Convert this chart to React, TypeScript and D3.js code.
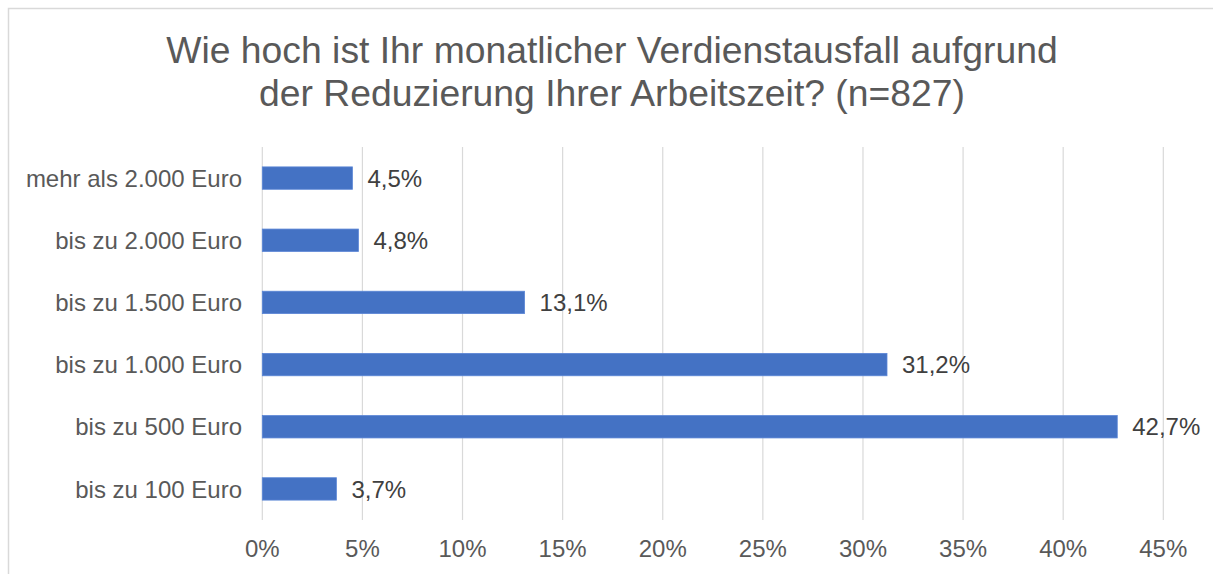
import * as d3 from "d3";

// Werte
const categories = [
  "mehr als 2.000 Euro",
  "bis zu 2.000 Euro",
  "bis zu 1.500 Euro",
  "bis zu 1.000 Euro",
  "bis zu 500 Euro",
  "bis zu 100 Euro",
];
const values = [4.5, 4.8, 13.1, 31.2, 42.7, 3.7];
const ticks = [0, 5, 10, 15, 20, 25, 30, 35, 40, 45];
const titleLines = [
  "Wie hoch ist Ihr monatlicher Verdienstausfall aufgrund",
  "der Reduzierung Ihrer Arbeitszeit? (n=827)",
];

const width = 1213;
const height = 574;
const plot = { left: 262.3, right: 1163.3, top: 147, bottom: 520 };
const font = "'Liberation Sans', Arial, sans-serif";
const fmt = (v: number) => v.toFixed(1).replace(".", ",") + "%";

export default function App() {
  const x = d3.scaleLinear().domain([0, 45]).range([plot.left, plot.right]);
  const y = d3
    .scaleBand()
    .domain(categories)
    .range([plot.top, plot.bottom])
    .paddingInner(0.64)
    .paddingOuter(0.32);

  return (
    <svg
      width={width}
      height={height}
      style={{ position: "absolute", left: 0, top: 0, display: "block" }}
      fontFamily={font}
    >
      <rect width={width} height={height} fill="#fff" />
      <rect x={8.5} y={8.5} width={1230} height={600} fill="none" stroke="#d9d9d9" strokeWidth={1.5} />

      {titleLines.map((t, i) => (
        <text key={i} x={612} y={63 + i * 43} textAnchor="middle" fontSize={37.3} fill="#595959">
          {t}
        </text>
      ))}

      {ticks.map((t) => (
        <g key={t}>
          <line x1={x(t)} x2={x(t)} y1={plot.top} y2={plot.bottom} stroke="#d9d9d9" strokeWidth={1.2} />
          <text x={x(t)} y={557} textAnchor="middle" fontSize={24} fill="#595959">
            {t}%
          </text>
        </g>
      ))}

      {categories.map((c, i) => {
        const yc = y(c)! + y.bandwidth() / 2;
        return (
          <g key={c}>
            <rect
              x={x(0)}
              y={y(c)}
              width={x(values[i]) - x(0)}
              height={y.bandwidth()}
              fill="#4472c4"
              stroke="#5b86d6"
              strokeWidth={0.8}
            />
            <text x={242} y={yc} dy="0.36em" textAnchor="end" fontSize={24} fill="#595959">
              {c}
            </text>
            <text x={x(values[i]) + 15} y={yc} dy="0.36em" fontSize={24} fill="#404040">
              {fmt(values[i])}
            </text>
          </g>
        );
      })}
    </svg>
  );
}
